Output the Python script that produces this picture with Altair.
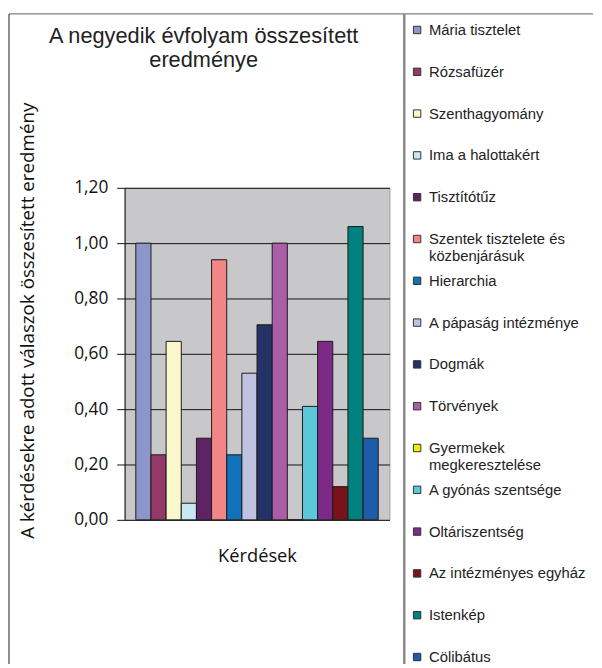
import altair as alt
import pandas as pd

series = ["Mária tisztelet", "Rózsafüzér", "Szenthagyomány", "Ima a halottakért",
          "Tisztítótűz", "Szentek tisztelete és közbenjárásuk", "Hierarchia",
          "A pápaság intézménye", "Dogmák", "Törvények", "Gyermekek megkeresztelése",
          "A gyónás szentsége", "Oltáriszentség", "Az intézményes egyház", "Istenkép",
          "Cölibátus"]
values = [1.00, 0.235, 0.645, 0.06, 0.295, 0.94, 0.235, 0.53, 0.705, 1.00, 0.0,
          0.41, 0.645, 0.12, 1.06, 0.295]
colors = ["#8C96CA", "#953A68", "#FAF8CC", "#C6E8F0", "#5E2265", "#F28585", "#1171B9",
          "#C0C2E2", "#243366", "#AC5DA7", "#F2EE00", "#5BC8D9", "#7C2A86", "#7A1319",
          "#00807F", "#1E5BAB"]
legend_labels = ["Mária tisztelet", "Rózsafüzér", "Szenthagyomány", "Ima a halottakért",
                 "Tisztítótűz", "Szentek tisztelete és\nközbenjárásuk", "Hierarchia",
                 "A pápaság intézménye", "Dogmák", "Törvények",
                 "Gyermekek\nmegkeresztelése", "A gyónás szentsége", "Oltáriszentség",
                 "Az intézményes egyház", "Istenkép", "Cölibátus"]
y_ticks = [0.0, 0.2, 0.4, 0.6, 0.8, 1.0, 1.2]
title_lines = ["A negyedik évfolyam összesített", "eredménye"]
x_title = "Kérdések"
y_title = "A kérdésekre adott válaszok összesített eredmény"

df = pd.DataFrame({"series": series, "value": values})
ldf = pd.DataFrame({"series": series, "label": legend_labels, "idx": list(range(len(series)))})
one = pd.DataFrame({"k": [0]})

color_scale = alt.Scale(domain=series, range=colors)

bars = alt.Chart(df).mark_bar(stroke="#1a1a1a", strokeWidth=1).encode(
    x=alt.X("series:N", sort=series,
            scale=alt.Scale(paddingInner=0, paddingOuter=0.74),
            axis=alt.Axis(labels=False, ticks=False, domain=False, title=x_title,
                          titleFont="Open Sans", titleFontSize=18.5,
                          titleFontWeight="normal", titlePadding=27, titleColor="#111")),
    y=alt.Y("value:Q", scale=alt.Scale(domain=[0, 1.2], nice=False),
            axis=alt.Axis(values=y_ticks,
                          labelExpr="replace(format(datum.value, '.2f'), '.', ',')",
                          tickSize=8, labelPadding=9, tickColor="#111", domainColor="#111",
                          gridColor="#111", gridWidth=1, gridOpacity=1,
                          labelFont="Open Sans", labelFontSize=17.5, labelColor="#111",
                          title=y_title, titleFont="Open Sans", titleFontSize=19,
                          titleFontWeight="normal", titleColor="#111",
                          titleAngle=270, titleAlign="center", titleBaseline="alphabetic",
                          titleX=-92, titleY=134)),
    fill=alt.Fill("series:N", scale=color_scale, legend=None),
)

# chart frame (decoration)
frame_top = alt.Chart(one).mark_rule(color="#808080", strokeWidth=1.2).encode(
    x=alt.value(-117), x2=alt.value(474), y=alt.value(-176))
frame_left = alt.Chart(one).mark_rule(color="#444444", strokeWidth=1.2).encode(
    x=alt.value(-117), y=alt.value(-176), y2=alt.value(482))
frame_sep = alt.Chart(one).mark_rule(color="#8A8A8A", strokeWidth=2.5).encode(
    x=alt.value(283), y=alt.value(-176), y2=alt.value(482))

lbase = alt.Chart(ldf).encode(
    y=alt.Y("idx:O", axis=None,
            scale=alt.Scale(type="point", padding=0, range=[-159.7, 474.8])))
swatches = lbase.mark_square(size=56, stroke="#333", strokeWidth=1, opacity=1).encode(
    x=alt.value(296),
    fill=alt.Fill("series:N", scale=color_scale, legend=None))
texts = lbase.mark_text(align="left", baseline="alphabetic", dy=5, font="Liberation Sans",
                        fontSize=15, lineBreak="\n", lineHeight=17, color="#222").encode(
    x=alt.value(308), text="label:N")

chart = alt.layer(bars, frame_top, frame_left, frame_sep, swatches, texts).resolve_scale(
    y="independent", fill="shared"
).properties(
    width=268, height=336,
    view=alt.ViewBackground(fill="#C8C8CA", stroke="#A0A0A0", strokeWidth=1),
    title=alt.TitleParams(text=title_lines, font="Liberation Sans", fontSize=22,
                          fontWeight="normal", color="#222", anchor="middle",
                          frame="group", dx=-54, lineHeight=24, offset=-60),
    padding={"left": 0, "top": 0, "right": 0, "bottom": 0},
)

chart.save("out.html", embed_options={"renderer": "svg", "actions": False})
